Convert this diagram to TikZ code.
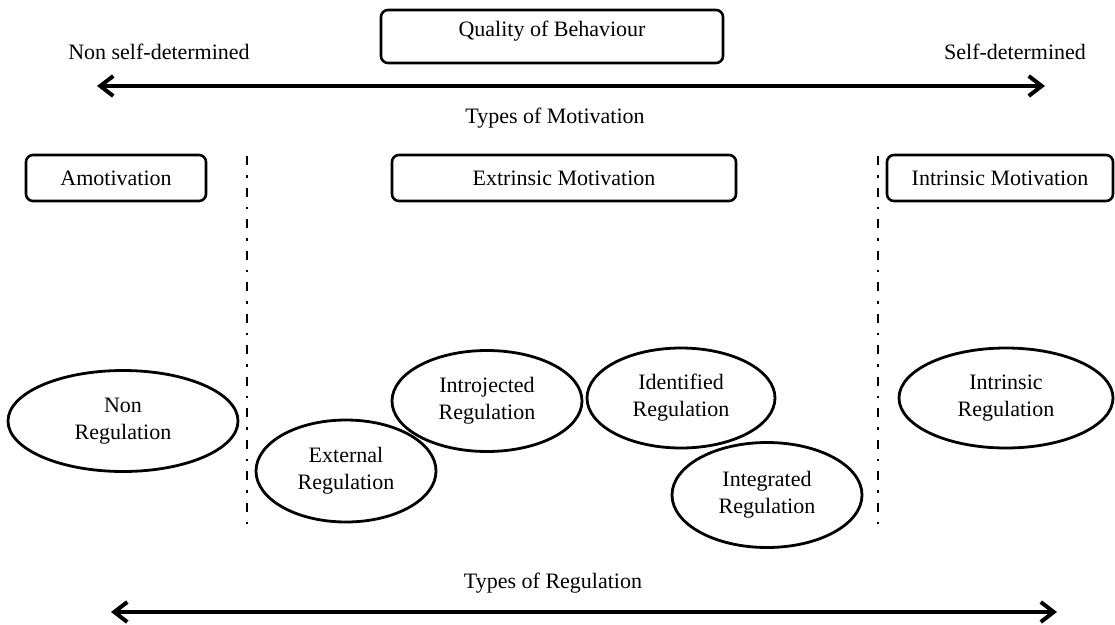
\documentclass[tikz,border=0pt]{standalone}
\usepackage{fontspec}
\setmainfont{Liberation Serif}
\usetikzlibrary{arrows.meta,shapes.geometric}
\begin{document}
\begin{tikzpicture}[x=1pt,y=-1pt,
  txt/.style={font=\fontsize{22}{27}\selectfont, inner sep=0pt},
  headbox/.style={txt, draw, line width=2.6pt, rounded corners=7pt, minimum height=46pt},
  regell/.style={txt, draw, ellipse, line width=2.8pt, align=center, inner sep=0pt},
  scalearrow/.style={line width=4pt, {Straight Barb[length=13pt,width=20pt]}-{Straight Barb[length=13pt,width=20pt]}},
  divider/.style={line width=2.6pt, dash pattern=on 9pt off 10pt on 2.5pt off 10pt}
]
\useasboundingbox (0,0) rectangle (1115,624);

% header and the self-determination scale
\node[txt] (nsd) at (159,52) {Non self-determined};
\node[headbox, minimum height=0pt, inner ysep=6pt, text height=20pt, text depth=21pt,
      minimum width=342pt, anchor=base] (qob) at (552,36) {Quality of Behaviour};
\node[txt] (sd) at (1015,52) {Self-determined};
\coordinate (tl) at (97,86);
\coordinate (tr) at (1045,86);
\draw[scalearrow] (tl) -- (tr);
\node[txt] (tom) at (555,118) {Types of Motivation};

% motivation categories
\node[headbox, minimum width=180pt] (amot) at (116,178) {Amotivation};
\node[headbox, minimum width=344pt] (extr) at (564,178) {Extrinsic Motivation};
\node[headbox, minimum width=226pt] (intr) at (1000,178) {Intrinsic Motivation};

% dividers between categories
\coordinate (d1t) at (247,156);
\coordinate (d1b) at (247,525);
\coordinate (d2t) at (878,156);
\coordinate (d2b) at (878,525);
\draw[divider] (d1t) -- (d1b);
\draw[divider] (d2t) -- (d2b);

% regulation styles
\node[regell, minimum width=230pt, minimum height=101pt] (nonreg) at (123,421) {Non\\Regulation};
\node[regell, minimum width=180pt, minimum height=102pt] (extreg) at (346,471) {External\\Regulation};
\node[regell, minimum width=190pt, minimum height=101pt] (introreg) at (487,401) {Introjected\\Regulation};
\node[regell, minimum width=188pt, minimum height=100pt] (identreg) at (681,398) {Identified\\Regulation};
\node[regell, minimum width=190pt, minimum height=105pt] (integreg) at (767,495) {Integrated\\Regulation};
\node[regell, minimum width=214pt, minimum height=100pt] (intrreg) at (1006,398) {Intrinsic\\Regulation};

% regulation scale
\node[txt] (tor) at (553,583) {Types of Regulation};
\coordinate (bl) at (111,612);
\coordinate (br) at (1057,612);
\draw[scalearrow] (bl) -- (br);
\end{tikzpicture}
\end{document}
